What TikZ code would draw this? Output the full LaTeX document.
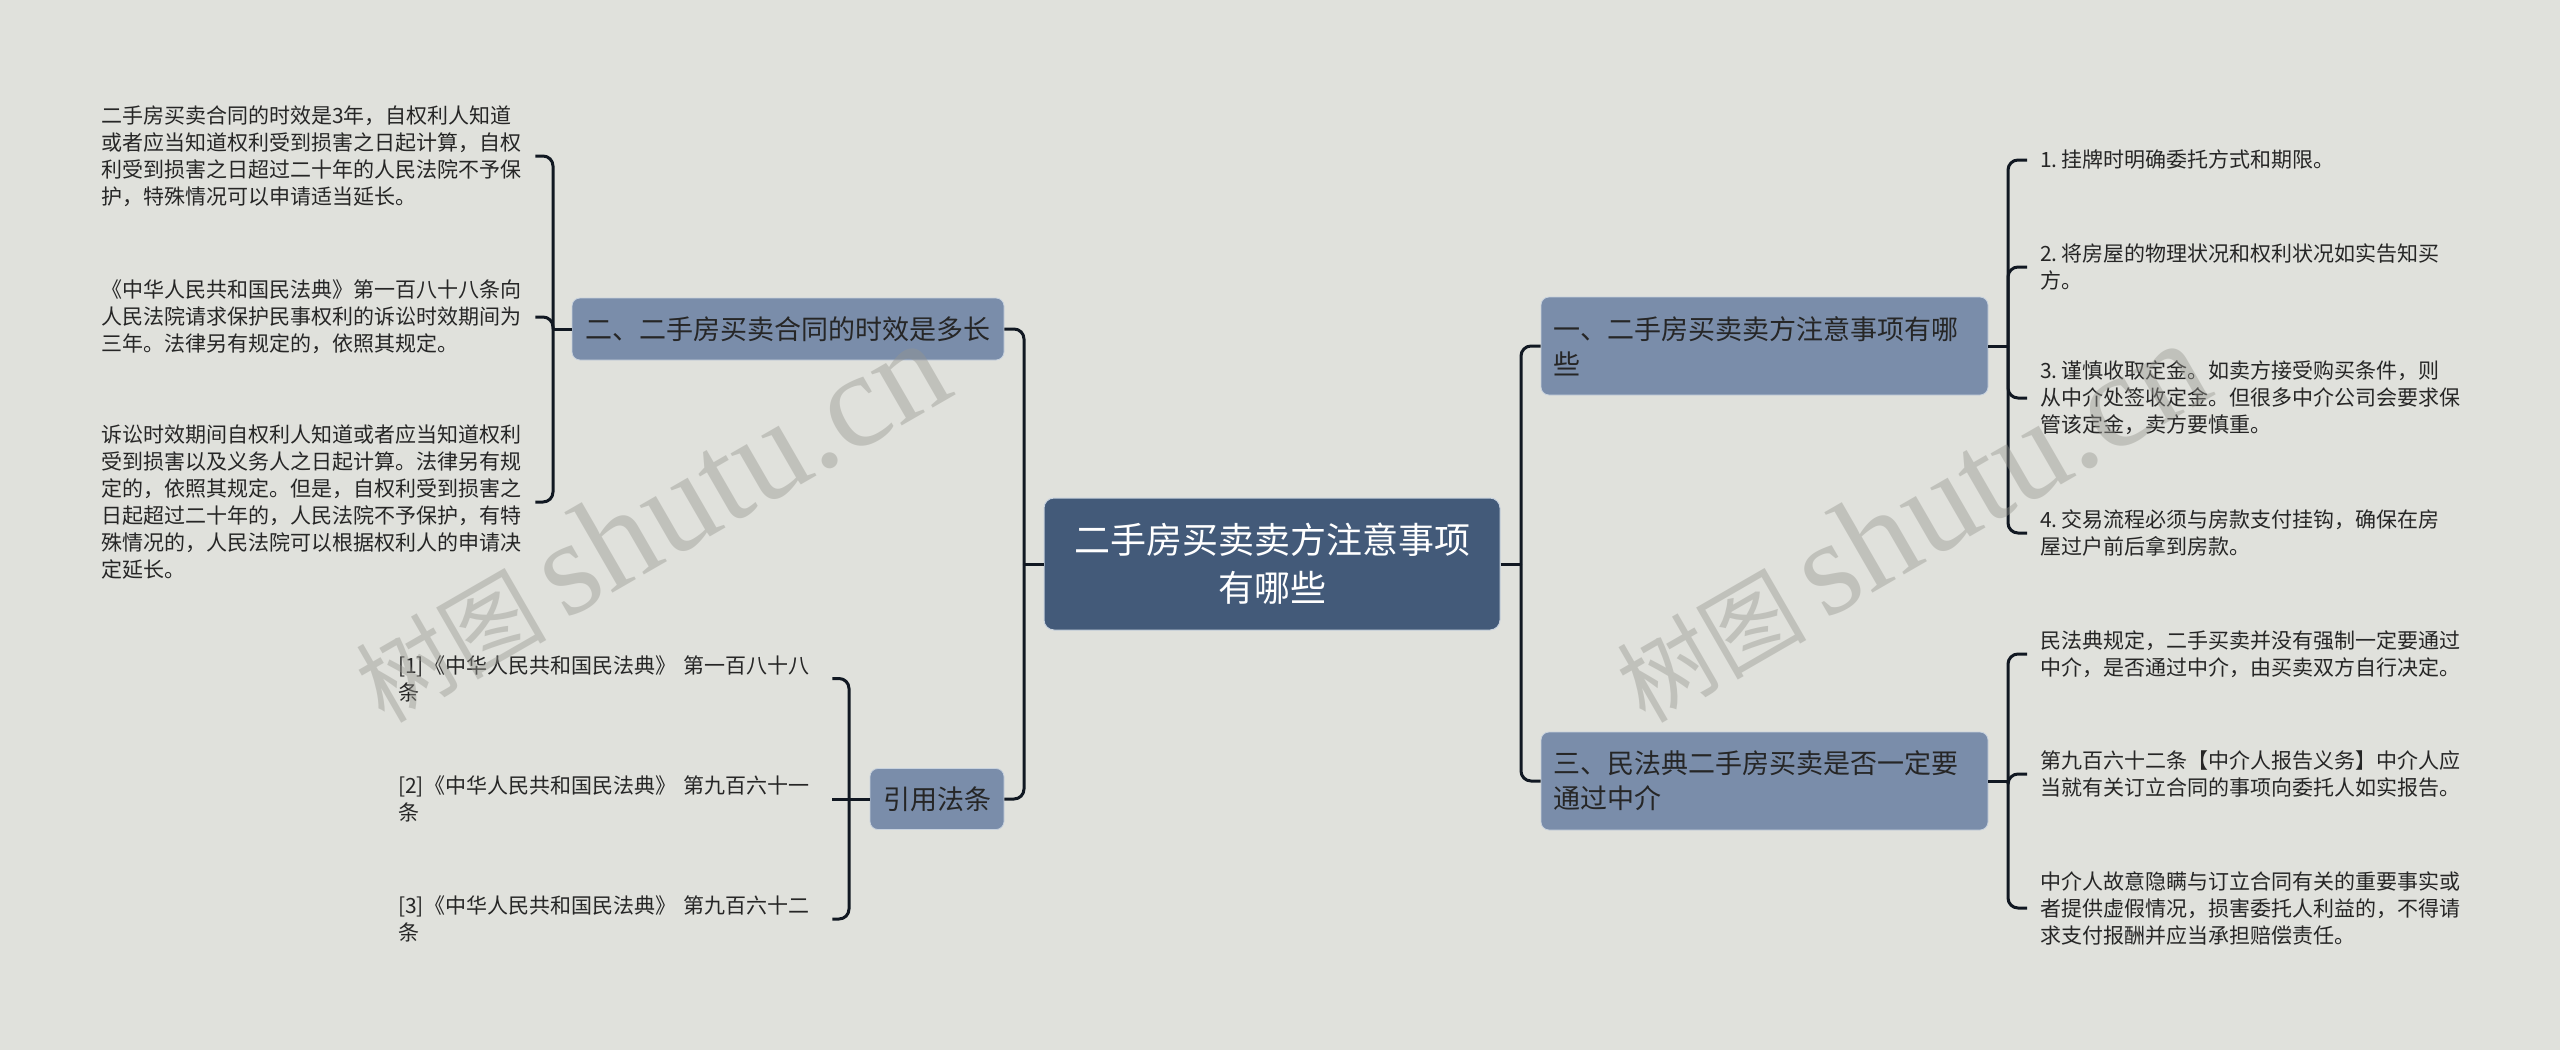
\documentclass[tikz,border=0pt]{standalone}
\usepackage{fontspec}
\setmainfont{Noto Sans CJK SC}
\newfontfamily\wmlatin{Liberation Serif}
\definecolor{bg}{HTML}{E0E1DC}
\definecolor{rootfill}{HTML}{435A79}
\definecolor{branchfill}{HTML}{7A8DAA}
\definecolor{boxedge}{HTML}{C8D2DE}
\definecolor{linec}{HTML}{111822}
\definecolor{txt}{HTML}{262626}
\definecolor{wmc}{HTML}{96968F}
\tikzset{
  rootbox/.style={rectangle, rounded corners=10pt, fill=rootfill, draw=boxedge, line width=1pt,
    text=white, align=center, minimum width=456pt, minimum height=132pt, inner sep=0pt,
    font={\fontsize{36pt}{48pt}\selectfont}},
  branchbox/.style={rectangle, rounded corners=8pt, fill=branchfill, draw=boxedge, line width=0.8pt,
    text=txt, inner xsep=12pt, inner ysep=0pt, font={\fontsize{27pt}{35pt}\selectfont}},
  leaf/.style={text=txt, text width=421pt, align=left, inner xsep=13pt, inner ysep=0pt, anchor=west,
    font={\fontsize{21pt}{27pt}\selectfont}},
  conn/.style={draw=linec, line width=3pt, rounded corners=10pt},
  wmark/.style={text=wmc, text opacity=0.42, rotate=30, inner sep=0pt}
}
\begin{document}
\begin{tikzpicture}[x=1pt,y=-1pt]
\useasboundingbox (0,0) rectangle (2560,1050);
\fill[bg] (0,0) rectangle (2560,1050);

% junction coordinates
\coordinate (jL) at (1024,564);
\coordinate (jR) at (1521,564);
\coordinate (j2) at (553,329);
\coordinate (jref) at (849,799);
\coordinate (j1) at (2008,346);
\coordinate (j3) at (2008,781);

% main nodes
\node[rootbox] (root) at (1272,564) {二手房买卖卖方注意事项\\有哪些};
\node[branchbox, minimum width=432pt, minimum height=62pt] (b2) at (788,329) {二、二手房买卖合同的时效是多长};
\node[branchbox, minimum width=134pt, minimum height=61pt, inner xsep=0pt] (ref) at (937,799) {引用法条};
\node[branchbox, text width=423pt, align=left, minimum height=98pt] (b1) at (1764.5,346) {一、二手房买卖卖方注意事项有哪\\些};
\node[branchbox, text width=423pt, align=left, minimum height=98pt] (b3) at (1764.5,781) {三、民法典二手房买卖是否一定要\\通过中介};

% left leaves
\node[leaf] (lA) at (88,156) {二手房买卖合同的时效是3年，自权利人知道\\或者应当知道权利受到损害之日起计算，自权\\利受到损害之日超过二十年的人民法院不予保\\护，特殊情况可以申请适当延长。};
\node[leaf] (lB) at (88,317) {《中华人民共和国民法典》第一百八十八条向\\人民法院请求保护民事权利的诉讼时效期间为\\三年。法律另有规定的，依照其规定。};
\node[leaf] (lC) at (88,502) {诉讼时效期间自权利人知道或者应当知道权利\\受到损害以及义务人之日起计算。法律另有规\\定的，依照其规定。但是，自权利受到损害之\\日起超过二十年的，人民法院不予保护，有特\\殊情况的，人民法院可以根据权利人的申请决\\定延长。};

\node[leaf] (r1) at (385,678.5) {[1]《中华人民共和国民法典》 第一百八十八\\条};
\node[leaf] (r2) at (385,799) {[2]《中华人民共和国民法典》 第九百六十一\\条};
\node[leaf] (r3) at (385,919) {[3]《中华人民共和国民法典》 第九百六十二\\条};

% right leaves
\node[leaf] (a1) at (2027,160) {1.\hspace{4pt}挂牌时明确委托方式和期限。};
\node[leaf] (a2) at (2027,267) {2.\hspace{4pt}将房屋的物理状况和权利状况如实告知买\\方。};
\node[leaf] (a3) at (2027,398) {3.\hspace{4pt}谨慎收取定金。如卖方接受购买条件，则\\从中介处签收定金。但很多中介公司会要求保\\管该定金，卖方要慎重。};
\node[leaf] (a4) at (2027,533) {4.\hspace{4pt}交易流程必须与房款支付挂钩，确保在房\\屋过户前后拿到房款。};

\node[leaf] (c1) at (2027,654) {民法典规定，二手买卖并没有强制一定要通过\\中介，是否通过中介，由买卖双方自行决定。};
\node[leaf] (c2) at (2027,774) {第九百六十二条【中介人报告义务】中介人应\\当就有关订立合同的事项向委托人如实报告。};
\node[leaf] (c3) at (2027,908) {中介人故意隐瞒与订立合同有关的重要事实或\\者提供虚假情况，损害委托人利益的，不得请\\求支付报酬并应当承担赔偿责任。};

% connectors
\draw[conn] (root.west) -- (jL);
\draw[conn] (jL) |- (b2.east);
\draw[conn] (jL) |- (ref.east);
\draw[conn] (root.east) -- (jR);
\draw[conn] (jR) |- (b1.west);
\draw[conn] (jR) |- (b3.west);

\draw[conn] (b2.west) -- (j2);
\draw[conn] (j2) |- (lA.east);
\draw[conn] (j2) |- (lB.east);
\draw[conn] (j2) |- (lC.east);

\draw[conn] (ref.west) -- (jref);
\draw[conn] (jref) |- (r1.east);
\draw[conn] (jref) -- (r2.east);
\draw[conn] (jref) |- (r3.east);

\draw[conn] (b1.east) -- (j1);
\draw[conn] (j1) |- (a1.west);
\draw[conn] (j1) |- (a2.west);
\draw[conn] (j1) |- (a3.west);
\draw[conn] (j1) |- (a4.west);

\draw[conn] (b3.east) -- (j3);
\draw[conn] (j3) |- (c1.west);
\draw[conn] (j3) |- (c2.west);
\draw[conn] (j3) |- (c3.west);

% watermarks
\node[wmark] (wm1) at (650,522) {{\fontsize{95pt}{95pt}\selectfont 树图}\hspace{18pt}{\wmlatin\fontsize{135pt}{135pt}\selectfont shutu.cn}};
\node[wmark] (wm2) at (1910,522) {{\fontsize{95pt}{95pt}\selectfont 树图}\hspace{18pt}{\wmlatin\fontsize{135pt}{135pt}\selectfont shutu.cn}};
\end{tikzpicture}
\end{document}
